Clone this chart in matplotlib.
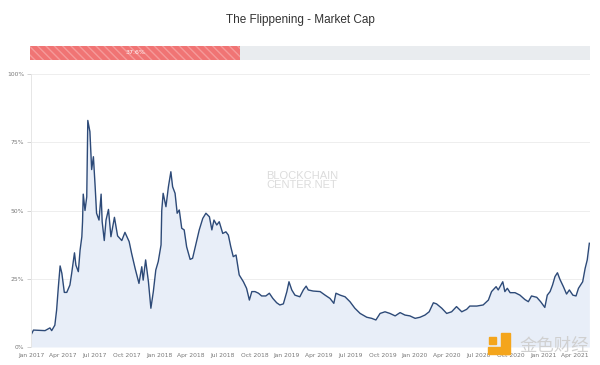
"""The Flippening - ETH share of BTC market cap, recreated chart."""
import matplotlib
matplotlib.use("Agg")
import matplotlib.dates as mdates
import matplotlib.pyplot as plt
import pandas as pd
from matplotlib.patches import Rectangle


DATES = [
    "2017-01-01", "2017-01-08", "2017-02-10", "2017-02-24", "2017-03-01", "2017-03-10",
    "2017-03-15", "2017-03-20", "2017-03-25", "2017-03-30", "2017-04-06", "2017-04-13",
    "2017-04-22", "2017-04-27", "2017-05-05", "2017-05-09", "2017-05-16", "2017-05-21",
    "2017-05-26", "2017-05-28", "2017-05-30", "2017-06-04", "2017-06-09", "2017-06-12",
    "2017-06-18", "2017-06-23", "2017-06-28", "2017-07-03", "2017-07-07", "2017-07-14",
    "2017-07-20", "2017-07-23", "2017-07-29", "2017-08-03", "2017-08-10", "2017-08-17",
    "2017-08-27", "2017-09-05", "2017-09-17", "2017-09-26", "2017-10-08", "2017-10-15",
    "2017-10-25", "2017-11-05", "2017-11-13", "2017-11-17", "2017-11-24", "2017-12-02",
    "2017-12-09", "2017-12-16", "2017-12-23", "2017-12-30", "2018-01-07", "2018-01-09",
    "2018-01-13", "2018-01-21", "2018-01-28", "2018-02-04", "2018-02-09", "2018-02-16",
    "2018-02-22", "2018-02-28", "2018-03-07", "2018-03-14", "2018-03-21", "2018-03-31",
    "2018-04-07", "2018-04-17", "2018-04-26", "2018-05-06", "2018-05-15", "2018-05-25",
    "2018-06-01", "2018-06-07", "2018-06-15", "2018-06-22", "2018-07-02", "2018-07-11",
    "2018-07-18", "2018-07-25", "2018-08-01", "2018-08-09", "2018-08-18", "2018-08-30",
    "2018-09-08", "2018-09-16", "2018-09-23", "2018-10-02", "2018-10-12", "2018-10-21",
    "2018-11-02", "2018-11-12", "2018-11-22", "2018-12-03", "2018-12-12", "2018-12-22",
    "2019-01-01", "2019-01-07", "2019-01-15", "2019-01-24", "2019-02-07", "2019-02-17",
    "2019-02-25", "2019-03-03", "2019-03-17", "2019-04-06", "2019-04-20", "2019-05-04",
    "2019-05-15", "2019-05-21", "2019-06-02", "2019-06-16", "2019-06-30", "2019-07-14",
    "2019-07-29", "2019-08-17", "2019-08-31", "2019-09-12", "2019-09-24", "2019-10-08",
    "2019-10-22", "2019-11-06", "2019-11-20", "2019-12-04", "2019-12-18", "2020-01-02",
    "2020-01-16", "2020-01-30", "2020-02-11", "2020-02-23", "2020-03-03", "2020-03-18",
    "2020-04-01", "2020-04-15", "2020-04-29", "2020-05-14", "2020-05-28", "2020-06-06",
    "2020-06-26", "2020-07-14", "2020-07-29", "2020-08-07", "2020-08-20", "2020-08-26",
    "2020-09-08", "2020-09-14", "2020-09-21", "2020-09-29", "2020-10-13", "2020-10-27",
    "2020-11-10", "2020-11-20", "2020-11-29", "2020-12-14", "2020-12-25", "2021-01-06",
    "2021-01-13", "2021-01-21", "2021-01-28", "2021-02-04", "2021-02-11", "2021-02-18",
    "2021-02-28", "2021-03-09", "2021-03-17", "2021-03-27", "2021-04-05", "2021-04-12",
    "2021-04-24", "2021-05-01", "2021-05-07", "2021-05-13",
]
SHARE_PCT = [
    4.4, 6.2, 6.0, 7.0, 6.0, 8.0,
    13.5, 22.0, 29.7, 27.0, 20.0, 20.0,
    22.7, 27.0, 34.5, 30.0, 27.6, 35.5,
    40.4, 45.9, 56.0, 50.0, 55.0, 83.0,
    78.9, 65.0, 69.7, 58.7, 49.0, 46.5,
    56.0, 45.9, 39.0, 46.5, 50.4, 40.4,
    47.5, 40.7, 39.0, 42.0, 38.6, 34.3,
    28.8, 23.3, 29.4, 24.5, 31.9, 23.9,
    14.2, 20.3, 28.2, 31.3, 37.4, 50.0,
    56.3, 51.4, 58.7, 64.2, 58.7, 56.3,
    49.0, 50.2, 43.5, 42.9, 36.7, 32.1,
    32.5, 38.0, 42.9, 47.1, 49.0, 47.7,
    42.9, 46.5, 44.7, 45.9, 41.6, 42.2,
    41.0, 36.7, 33.1, 33.7, 26.4, 23.9,
    21.5, 17.2, 20.3, 20.3, 19.7, 18.7,
    18.7, 19.7, 17.8, 16.2, 15.4, 15.8,
    20.3, 23.9, 20.9, 19.0, 18.4, 20.9,
    22.3, 20.9, 20.5, 20.3, 19.0, 17.8,
    16.0, 19.7, 19.0, 18.4, 16.6, 14.2,
    12.3, 10.9, 10.5, 9.9, 12.3, 12.9,
    12.3, 11.4, 12.6, 11.7, 11.4, 10.5,
    10.9, 11.7, 12.9, 16.2, 15.8, 14.2,
    12.3, 12.9, 14.8, 12.9, 13.8, 15.0,
    15.0, 15.4, 17.2, 20.3, 22.1, 20.9,
    23.9, 20.3, 21.5, 19.9, 19.9, 19.0,
    17.4, 16.6, 18.7, 18.2, 16.6, 14.5,
    19.0, 20.3, 22.7, 25.8, 27.2, 24.8,
    22.1, 19.4, 20.9, 19.0, 18.7, 21.5,
    23.9, 28.8, 31.9, 38.0,
]
CURRENT_PCT = 37.6
Y_TICKS = [0, 25, 50, 75, 100]
Y_LABELS = ["0%", "25%", "50%", "75%", "100%"]
X_START = "2017-01-01"
X_END = "2021-05-15"


def main():
    dates = pd.to_datetime(DATES)
    fig = plt.figure(figsize=(6.0, 3.65), dpi=100, facecolor="white")
    fig.text(0.5, 0.945, "The Flippening - Market Cap", ha="center", va="center",
             fontsize=8.5, color="#333333", family="Liberation Sans")

    # progress bar
    bar = fig.add_axes([0.05, 0.836, 0.933, 0.038])
    bar.barh(0, 100, height=1, color="#e9ecef", linewidth=0)
    bar.barh(0, CURRENT_PCT, height=1, color="#f07474", edgecolor="#f59a9a",
             hatch="\\\\\\\\", linewidth=0)
    bar.text(CURRENT_PCT / 2, 0, f"{CURRENT_PCT}%", ha="center", va="center",
             fontsize=4.5, color="white")
    bar.set_xlim(0, 100)
    bar.set_ylim(-0.5, 0.5)
    bar.axis("off")

    ax = fig.add_axes([0.0517, 0.0493, 0.9317, 0.7479])
    ax.fill_between(dates, SHARE_PCT, 0, color="#e8eef8", linewidth=0)
    ax.plot(dates, SHARE_PCT, color="#2d4a78", linewidth=1.0)
    ax.set_xlim(pd.Timestamp(X_START), pd.Timestamp(X_END))
    ax.set_ylim(0, 100)
    ax.set_yticks(Y_TICKS)
    ax.set_yticklabels(Y_LABELS)
    ax.xaxis.set_major_locator(mdates.MonthLocator(bymonth=[1, 4, 7, 10]))
    ax.xaxis.set_major_formatter(mdates.DateFormatter("%b %Y"))
    ax.tick_params(axis="both", labelsize=4.3, colors="#cccccc", labelcolor="#777777",
                   length=3, width=0.6, pad=2)
    ax.tick_params(axis="x", length=0, pad=4)
    ax.grid(axis="y", color="#eeeeee", linewidth=0.7)
    ax.set_axisbelow(True)
    ax.spines[["top", "right", "bottom"]].set_visible(False)
    ax.spines["left"].set_color("#e6e6e6")
    ax.spines["left"].set_linewidth(0.7)

    # watermarks
    ax.text(0.485, 0.61, "BLOCKCHAIN\nCENTER.NET", transform=ax.transAxes,
            ha="center", va="center", fontsize=8, color="#dcdcdc",
            linespacing=0.95, family="Liberation Sans")
    orange = "#f4a51c"
    fig.patches.append(Rectangle((0.835, 0.03), 0.015, 0.057, transform=fig.transFigure,
                                 color=orange, zorder=10))
    fig.patches.append(Rectangle((0.813, 0.03), 0.035, 0.018, transform=fig.transFigure,
                                 color=orange, zorder=10))
    fig.patches.append(Rectangle((0.815, 0.058), 0.011, 0.02, transform=fig.transFigure,
                                 color=orange, zorder=10))
    fig.text(0.923, 0.052, "金色财经", ha="center", va="center", fontsize=12.5,
             color="#d0d0d0", family=["Noto Sans CJK SC", "DejaVu Sans"], zorder=10)

    fig.savefig("out.png", dpi=100, facecolor="white")
    plt.close(fig)


if __name__ == "__main__":
    main()
